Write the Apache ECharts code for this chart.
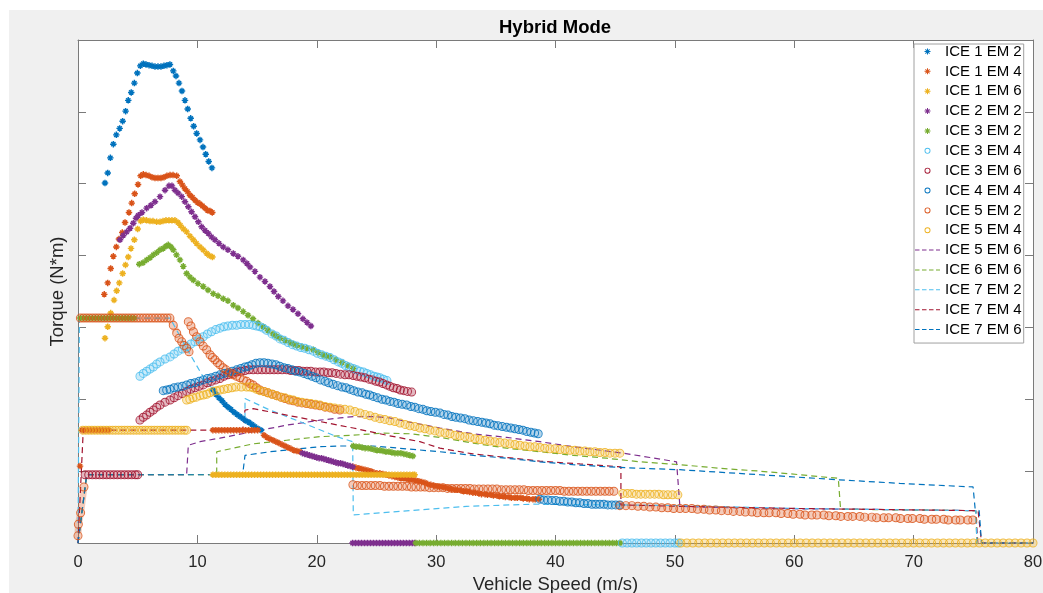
<!DOCTYPE html>
<html><head><meta charset="utf-8">
<script src="https://cdn.jsdelivr.net/npm/echarts@6/dist/echarts.min.js"></script>
<style>
html,body{margin:0;padding:0;background:#fff;width:1043px;height:593px;overflow:hidden}
#c{position:absolute;left:9px;top:10px;width:1034px;height:583px}
</style></head><body><div id="c"></div>
<script>
// ---------- labels ----------
const legendNames = ['ICE 1 EM 2','ICE 1 EM 4','ICE 1 EM 6','ICE 2 EM 2','ICE 3 EM 2','ICE 3 EM 4','ICE 3 EM 6','ICE 4 EM 4','ICE 5 EM 2','ICE 5 EM 4','ICE 5 EM 6','ICE 6 EM 6','ICE 7 EM 2','ICE 7 EM 4','ICE 7 EM 6'];
const seriesColors = ['#0072BD','#D95319','#EDB120','#7E2F8E','#77AC30','#4DBEEE','#A2142F','#0072BD','#D95319','#EDB120','#7E2F8E','#77AC30','#4DBEEE','#A2142F','#0072BD'];
const seriesKinds = ['star','star','star','star','star','ring','ring','ring','ring','ring','dash','dash','dash','dash','dash'];
const xTickValues = [0,10,20,30,40,50,60,70,80];
const yTickValues = [0,100,200,300,400,500,600,700];
const titleText = 'Hybrid Mode';
const xName = 'Vehicle Speed (m/s)';
const yName = 'Torque (N*m)';

// ---------- ICE 1 EM 2 (*) ----------
const ice1em2Peak = [[2.26,501],[2.49,515],[2.71,536],[2.96,555],[3.21,568],[3.49,577],[3.74,587],[3.99,601],[4.21,616],[4.46,627],[4.72,640],[4.97,654],[5.22,664],[5.47,667],[5.70,666],[5.95,665],[6.20,664],[6.45,663],[6.70,663],[6.95,663],[7.20,664],[7.45,665],[7.70,666],[7.98,657],[8.21,650],[8.46,640],[8.71,629],[8.96,616],[9.19,604],[9.44,591],[9.69,580],[9.94,570],[10.22,561],[10.47,551],[10.70,541],[10.95,531],[11.22,522]];
const ice1em2Band = [[11.31,213],[11.56,207],[11.81,202],[12.06,198],[12.31,193],[12.56,189],[12.81,186],[13.07,182],[13.32,179],[13.57,176],[13.82,173],[14.07,170],[14.32,168],[14.57,165],[14.82,162],[15.08,159],[15.33,157]];
// ---------- ICE 1 EM 4 (*) ----------
const ice1em4Low = [[0.17,107],[0.34,157],[0.59,157],[0.84,157],[1.09,157],[1.34,157],[1.59,157],[1.84,157],[2.09,157],[2.35,157],[2.60,157]];
const ice1em4Peak = [[2.20,346],[2.49,362],[2.74,382],[2.96,399],[3.21,412],[3.43,423],[3.71,432],[3.94,446],[4.27,460],[4.50,473],[4.75,486],[5.03,499],[5.25,511],[5.47,513],[5.70,512],[5.95,511],[6.20,509],[6.45,508],[6.70,508],[6.95,508],[7.20,509],[7.45,511],[7.71,512],[7.96,512],[8.27,511],[8.54,503],[8.75,498],[8.96,493],[9.17,489],[9.38,484],[9.59,481],[9.80,477],[10.01,474],[10.22,472],[10.43,469],[10.64,466],[10.85,463],[11.06,462],[11.25,460]];
const ice1em4Flat = [[11.3,157],[11.55,157],[11.8,157],[12.05,157],[12.3,157],[12.55,157],[12.8,157],[13.05,157],[13.3,157],[13.55,157],[13.8,157],[14.05,157],[14.3,157],[14.55,157],[14.8,157],[15.05,157]];
const ice1em4Band = [[15.58,150],[15.83,147],[16.08,145],[16.33,143],[16.58,141],[16.83,139],[17.09,137],[17.34,135],[17.59,133],[17.84,131],[18.09,129],[18.34,128],[18.59,127]];
const ice1em4Band2 = [[23.03,106],[23.28,105],[23.53,104],[23.78,103],[24.04,102],[24.29,101],[24.54,100],[24.79,98],[25.04,97],[25.29,97],[25.54,96],[25.8,95],[26.05,94],[26.3,93],[26.55,92],[26.8,91],[27.05,90],[27.3,90],[27.55,89],[27.8,88],[28.06,88],[28.3,87],[28.56,86],[28.8,85],[29.06,84],[29.3,82],[29.56,81],[29.8,80],[30.07,79],[30.3,78],[30.57,78],[30.8,77],[31.07,76],[31.3,75],[31.57,74],[31.8,74],[32.08,73],[32.3,72],[32.58,72],[32.8,71],[33.08,70],[33.3,70],[33.58,69],[33.8,68],[34.09,68],[34.3,67],[34.59,67],[34.8,66],[35.09,66],[35.3,65],[35.59,65],[35.8,64],[36.10,64],[36.3,63],[36.60,63],[36.8,63],[37.10,63],[37.3,62],[37.60,62],[37.8,61],[38.11,61],[38.3,61],[38.61,61]];
// ---------- ICE 1 EM 6 (*) ----------
const ice1em6Peak = [[2.26,285],[2.49,301],[2.74,320],[3.02,338],[3.24,351],[3.46,362],[3.74,375],[3.98,387],[4.21,398],[4.44,410],[4.72,422],[5.00,437],[5.25,448],[5.47,450],[5.74,449],[6.03,448],[6.28,448],[6.59,447],[6.87,447],[7.12,448],[7.37,449],[7.62,449],[7.87,449],[8.12,449],[8.38,446],[8.58,442],[8.84,437],[9.10,433],[9.38,427],[9.66,422],[9.92,417],[10.22,412],[10.49,408],[10.78,403],[11.01,400],[11.26,398]];
const ice1em6Flat = [[11.3,95],[11.55,95],[11.8,95],[12.05,95],[12.3,95],[12.55,95],[12.8,95],[13.05,95],[13.3,95],[13.55,95],[13.8,95],[14.05,95],[14.3,95],[14.55,95],[14.8,95],[15.05,95],[15.3,95],[15.55,95],[15.8,95],[16.05,95],[16.3,95],[16.55,95],[16.8,95],[17.05,95],[17.3,95],[17.55,95],[17.8,95],[18.05,95],[18.3,95],[18.55,95],[18.8,95],[19.05,95],[19.3,95],[19.55,95],[19.8,95],[20.05,95],[20.3,95],[20.55,95],[20.8,95],[21.05,95],[21.3,95],[21.55,95],[21.8,95],[22.05,95],[22.3,95],[22.55,95],[22.8,95],[23.05,95],[23.3,95],[23.55,95],[23.8,95],[24.05,95],[24.3,95],[24.55,95],[24.8,95],[25.05,95],[25.3,95],[25.55,95],[25.8,95],[26.05,95],[26.3,95],[26.55,95],[26.8,95],[27.05,95],[27.3,95],[27.55,95],[27.8,95],[28.05,95],[28.2,95]];
// ---------- ICE 2 EM 2 (*) ----------
const ice2em2Peak = [[3.52,422],[3.79,428],[4.08,433],[4.36,438],[4.63,445],[4.86,452],[5.05,456],[5.36,460],[5.75,466],[6.11,470],[6.45,475],[6.87,482],[7.29,491],[7.62,497],[7.87,497],[8.12,491],[8.38,487],[8.69,482],[8.96,475],[9.24,468],[9.51,461],[9.80,454],[10.08,447],[10.36,440],[10.64,435],[10.91,431],[11.18,426],[11.47,422],[11.81,417],[12.17,412],[12.56,408],[13.01,403],[13.40,399],[13.84,394],[14.15,389],[14.41,384],[14.82,378],[15.24,370],[15.66,364],[16.08,357],[16.42,350],[16.78,343],[17.17,337],[17.59,330],[18.01,325],[18.43,319],[18.84,312],[19.18,307],[19.51,302]];
const ice2em2Band = [[18.8,125],[19.0,124],[19.2,123],[19.4,122],[19.6,121],[19.8,120],[20.0,119],[20.2,118],[20.4,118],[20.6,117],[20.8,116],[21.0,115],[21.2,114],[21.4,113],[21.6,112],[21.8,111],[22.0,111],[22.2,110],[22.4,109],[22.6,108],[22.8,107],[23.0,106]];
const ice2em2Zero = [[23.0,0],[23.25,0],[23.5,0],[23.75,0],[24.0,0],[24.25,0],[24.5,0],[24.75,0],[25.0,0],[25.25,0],[25.5,0],[25.75,0],[26.0,0],[26.25,0],[26.5,0],[26.75,0],[27.0,0],[27.25,0],[27.5,0],[27.75,0],[28.0,0],[28.2,0]];
// ---------- ICE 3 EM 2 (*) ----------
const ice3em2Low = [[0.2,313],[0.45,313],[0.7,313],[0.95,313],[1.2,313],[1.45,313],[1.7,313],[1.95,313],[2.2,313],[2.45,313],[2.7,313],[2.95,313],[3.2,313],[3.45,313],[3.7,313],[3.95,313],[4.2,313],[4.45,313],[4.7,313]];
const ice3em2Peak = [[5.13,388],[5.44,390],[5.75,394],[6.03,397],[6.31,401],[6.59,404],[6.87,408],[7.14,410],[7.37,413],[7.56,415],[7.79,412],[7.98,408],[8.25,401],[8.54,394],[8.82,385],[9.10,375],[9.38,370],[9.66,366],[10.05,361],[10.49,357],[10.89,352],[11.33,347],[11.73,344],[12.17,340],[12.56,337],[13.01,331],[13.40,327],[13.84,322],[14.24,317],[14.66,312],[15.08,306],[15.52,301],[15.91,296],[16.33,291],[16.62,288],[16.92,285],[17.34,282],[17.76,279],[18.04,277],[18.32,275],[18.76,273],[19.18,271],[19.71,269],[20.10,265],[20.52,262],[20.80,260],[21.11,259],[21.61,255],[22.11,251],[22.61,247],[23.06,243]];
const ice3em2Mid = [[23.06,135],[23.3,134],[23.55,134],[23.8,133],[24.05,132],[24.3,132],[24.55,131],[24.8,130],[25.05,129],[25.3,129],[25.55,128],[25.8,127],[26.05,127],[26.3,126],[26.55,125],[26.8,125],[27.05,125],[27.3,124],[27.55,123],[27.8,122],[28.05,121]];
const ice3em2Zero = [[28.3,0],[28.6,0],[28.9,0],[29.2,0],[29.5,0],[29.8,0],[30.1,0],[30.4,0],[30.7,0],[31.0,0],[31.3,0],[31.6,0],[31.9,0],[32.2,0],[32.5,0],[32.8,0],[33.1,0],[33.4,0],[33.7,0],[34.0,0],[34.3,0],[34.6,0],[34.9,0],[35.2,0],[35.5,0],[35.8,0],[36.1,0],[36.4,0],[36.7,0],[37.0,0],[37.3,0],[37.6,0],[37.9,0],[38.2,0],[38.5,0],[38.8,0],[39.1,0],[39.4,0],[39.7,0],[40.0,0],[40.3,0],[40.6,0],[40.9,0],[41.2,0],[41.5,0],[41.8,0],[42.1,0],[42.4,0],[42.7,0],[43.0,0],[43.3,0],[43.6,0],[43.9,0],[44.2,0],[44.5,0],[44.8,0],[45.1,0],[45.4,0]];
// ---------- ICE 3 EM 4 (o) ----------
const ice3em4Main = [[5.19,232],[5.47,236],[5.75,239],[6.03,242],[6.31,245],[6.59,249],[6.87,252],[7.29,256],[7.71,259],[8.05,263],[8.38,267],[8.74,270],[9.10,273],[9.45,277],[9.80,280],[10.15,284],[10.49,287],[10.84,291],[11.18,294],[11.54,297],[11.89,299],[12.22,301],[12.56,302],[12.93,303],[13.29,303],[13.64,304],[13.99,304],[14.33,304],[14.68,303],[14.96,302],[15.24,301],[15.52,299],[15.80,296],[16.25,291],[16.6,288],[16.92,284],[17.26,282],[17.6,279],[17.96,276],[18.32,274],[18.66,272],[19.0,271],[19.35,269],[19.71,267],[20.05,264],[20.4,262],[20.75,260],[21.11,258],[21.45,255],[21.8,252],[22.1,250],[22.4,247],[22.73,245],[23.06,243],[23.34,241],[23.62,239],[23.91,238],[24.2,236],[24.5,234],[24.79,232],[25.04,231],[25.29,230],[25.58,228],[25.88,226]];
const ice3em4Zero = [[45.6,0],[46.0,0],[46.4,0],[46.8,0],[47.2,0],[47.6,0],[48.0,0],[48.4,0],[48.8,0],[49.2,0],[49.6,0],[50.0,0],[50.3,0]];
// ---------- ICE 3 EM 6 (o) ----------
const ice3em6Low = [[0.6,95],[0.9,95],[1.2,95],[1.5,95],[1.8,95],[2.1,95],[2.4,95],[2.7,95],[3.0,95],[3.3,95],[3.6,95],[3.9,95],[4.2,95],[4.5,95],[4.8,95],[5.0,95]];
const ice3em6Main = [[5.19,171],[5.47,175],[5.75,178],[6.03,182],[6.31,185],[6.59,189],[6.87,192],[7.29,196],[7.71,199],[8.05,202],[8.38,205],[8.74,208],[9.10,211],[9.45,214],[9.80,216],[10.15,218],[10.49,220],[10.84,223],[11.18,225],[11.54,227],[11.89,229],[12.22,232],[12.56,234],[12.93,236],[13.29,238],[13.64,239],[13.99,240],[14.33,241],[14.68,241],[15.05,241],[15.41,241],[15.75,241],[16.08,241],[16.42,241],[16.75,241],[17.1,241],[17.48,241],[17.82,240],[18.17,240],[18.5,240],[18.84,239],[19.18,239],[19.51,239],[19.9,238],[20.27,238],[20.6,238],[20.94,237],[21.28,237],[21.61,236],[21.98,235],[22.36,234],[22.7,234],[23.06,233],[23.38,232],[23.70,231],[24.03,230],[24.37,228],[24.66,227],[24.96,225],[25.25,224],[25.54,222],[25.84,220],[26.13,218],[26.42,216],[26.72,215],[27.0,213],[27.30,212],[27.6,211],[27.95,210]];
// ---------- ICE 4 EM 4 (o) ----------
const ice4em4Main = [[7.14,212],[7.43,213],[7.71,214],[8.05,216],[8.38,217],[8.74,218],[9.10,220],[9.45,222],[9.80,223],[10.15,225],[10.49,227],[10.84,229],[11.18,230],[11.54,232],[11.89,234],[12.22,236],[12.56,237],[12.93,239],[13.29,241],[13.64,243],[13.99,245],[14.28,246],[14.57,248],[14.9,250],[15.24,251],[15.58,251],[15.91,250],[16.25,249],[16.58,248],[16.9,246],[17.25,244],[17.58,243],[17.92,241],[18.25,239],[18.59,238],[18.92,236],[19.26,234],[19.6,232],[19.93,230],[20.3,227],[20.69,225],[21.0,223],[21.36,221],[21.74,219],[22.11,217],[22.45,216],[22.78,214],[23.1,212],[23.45,210],[23.8,209],[24.12,207],[24.43,206],[24.73,204],[25.1,202],[25.46,200],[25.8,199],[26.13,197],[26.47,196],[26.80,194],[27.16,193],[27.53,192],[27.88,190],[28.22,189],[28.55,187],[28.89,186],[29.22,184],[29.56,183],[29.94,182],[30.32,181],[30.65,179],[30.99,178],[31.32,176],[31.66,175],[32.04,174],[32.41,173],[32.76,171],[33.11,170],[33.48,169],[33.84,168],[34.18,167],[34.51,166],[34.85,164],[35.18,163],[35.54,162],[35.90,161],[36.25,160],[36.60,159],[36.94,158],[37.27,157],[37.6,155],[37.94,154],[38.25,153],[38.55,152]];
const ice4em4Band = [[38.69,61],[39.02,60],[39.36,60],[39.7,59],[40.03,59],[40.36,58],[40.70,58],[41.03,57],[41.37,57],[41.7,56],[42.04,56],[42.38,55],[42.71,55],[43.05,54],[43.38,54],[43.71,54],[44.05,54],[44.38,53],[44.72,53],[45.05,53],[45.39,53]];
// ---------- ICE 5 EM 2 (o) ----------
const ice5em2Start = [[0.0,10],[0.03,26],[0.22,42],[0.5,78]];
const ice5em2Low = [[0.2,313],[0.45,313],[0.7,313],[0.95,313],[1.2,313],[1.45,313],[1.7,313],[1.95,313],[2.2,313],[2.45,313],[2.7,313],[2.95,313],[3.2,313],[3.45,313],[3.7,313],[3.95,313],[4.2,313],[4.45,313],[4.7,313],[4.95,313],[5.2,313],[5.45,313],[5.7,313],[5.95,313],[6.2,313],[6.45,313],[6.7,313],[6.95,313],[7.2,313],[7.45,313],[7.7,313],[7.98,303],[8.27,292],[8.46,285],[8.69,280],[8.88,275],[9.10,271],[9.30,266]];
const ice5em2Hyb = [[9.24,308],[9.46,302],[9.67,294],[9.94,287],[10.22,280],[10.49,274],[10.78,269],[11.06,262],[11.27,258],[11.47,255],[11.68,251],[11.89,248],[12.15,244],[12.40,241],[12.69,237],[12.98,234],[13.28,232],[13.57,230],[13.85,227],[14.13,225],[14.4,222],[14.66,220],[14.95,216],[15.24,213],[15.58,211],[15.91,209],[16.28,207],[16.64,205],[17.0,203],[17.34,201],[17.7,199],[18.03,198],[18.4,196],[18.76,195],[19.14,194],[19.51,193],[19.9,192],[20.27,191],[20.7,189],[21.11,188],[21.5,186],[21.94,185]];
const ice5em2Mid = [[23.03,81],[23.4,80],[23.79,80],[24.15,80],[24.54,80],[24.9,80],[25.29,80],[25.67,79],[26.05,79],[26.42,79],[26.80,79],[27.17,79],[27.55,79],[27.93,78],[28.31,78],[28.7,78],[29.06,78],[29.44,77],[29.82,77],[30.2,77],[30.57,77],[30.95,76],[31.32,76],[31.7,76],[32.08,76],[32.45,76],[32.83,76],[33.2,75],[33.58,75],[33.96,75],[34.34,75],[34.72,75],[35.09,75],[35.47,74],[35.85,74],[36.22,74],[36.60,74],[36.97,74],[37.35,74],[37.73,73],[38.11,73],[38.48,73],[38.86,73],[39.24,73],[39.61,73],[40.0,73],[40.37,73],[40.74,72],[41.12,72],[41.5,72],[41.88,72],[42.25,72],[42.63,72],[43.0,72],[43.38,72],[43.76,72],[44.14,72],[44.5,72],[44.89,72]];
const ice5em2High = [[45.39,52],[45.9,52],[46.40,52],[46.9,51],[47.40,51],[47.9,50],[48.41,50],[48.9,49],[49.41,49],[49.9,48],[50.42,48],[50.9,48],[51.42,48],[51.9,47],[52.43,47],[52.9,46],[53.43,46],[53.9,45],[54.44,45],[54.9,44],[55.44,44],[55.9,43],[56.45,43],[56.9,42],[57.45,42],[57.9,42],[58.46,42],[58.9,41],[59.46,41],[59.9,40],[60.47,40],[60.9,39],[61.47,39],[61.9,39],[62.48,39],[62.9,38],[63.48,38],[63.9,37],[64.49,37],[64.9,37],[65.49,37],[65.9,36],[66.50,36],[66.9,35],[67.50,35],[67.9,35],[68.51,35],[68.9,34],[69.51,34],[69.9,34],[70.52,34],[70.9,33],[71.52,33],[71.9,33],[72.53,33],[72.9,32],[73.53,32],[73.9,32],[74.54,32],[74.96,32]];
// ---------- ICE 5 EM 4 (o) ----------
const ice5em4Low = [[0.4,157],[0.65,157],[0.9,157],[1.15,157],[1.4,157],[1.65,157],[1.9,157],[2.15,157],[2.4,157],[2.65,157],[2.9,157],[3.15,157],[3.4,157],[3.65,157],[3.9,157],[4.15,157],[4.4,157],[4.65,157],[4.9,157],[5.15,157],[5.4,157],[5.65,157],[5.9,157],[6.15,157],[6.4,157],[6.65,157],[6.9,157],[7.15,157],[7.4,157],[7.65,157],[7.9,157],[8.15,157],[8.4,157],[8.65,157],[8.9,157],[9.1,157]];
const ice5em4Hyb = [[9.10,199],[9.37,200],[9.63,202],[9.92,203],[10.22,205],[10.5,206],[10.78,207],[11.05,209],[11.33,211],[11.6,212],[11.89,213],[12.22,214],[12.56,215],[12.9,216],[13.23,217],[13.68,217],[14.13,217],[14.4,217],[14.68,216],[14.96,214],[15.24,212],[15.58,211],[15.91,209],[16.28,207],[16.64,205],[17.0,203],[17.34,202],[17.7,200],[18.03,199],[18.4,197],[18.76,196],[19.14,195],[19.51,194],[19.9,193],[20.27,192],[20.7,190],[21.11,189],[21.5,188],[21.94,187],[22.36,186],[22.78,185],[23.2,183],[23.62,181],[24.04,179],[24.46,177],[24.88,175],[25.29,173],[25.7,172],[26.13,170],[26.55,169],[26.97,167],[27.4,165],[27.81,163],[28.22,162],[28.64,160],[29.06,159],[29.48,157],[29.9,156],[30.32,154],[30.74,153],[31.16,152],[31.58,150],[32.00,149],[32.4,148],[32.83,147],[33.25,145],[33.67,144],[34.1,143],[34.51,142],[34.92,141],[35.34,140],[35.76,139],[36.18,138],[36.6,137],[37.02,136],[37.44,135],[37.86,134],[38.27,134],[38.69,133],[39.1,132],[39.53,131],[39.95,131],[40.37,130],[40.8,130],[41.21,129],[41.62,129],[42.04,128],[42.46,128],[42.88,127],[43.3,127],[43.72,126],[44.14,126],[44.56,125],[44.98,125],[45.39,125]];
const ice5em4Mid = [[45.64,69],[46.02,69],[46.40,69],[46.78,68],[47.15,68],[47.53,68],[47.91,68],[48.3,68],[48.66,68],[49.04,67],[49.41,67],[49.8,67],[50.25,67]];
const ice5em4Zero = [[50.5,0],[51.0,0],[51.5,0],[52.0,0],[52.5,0],[53.0,0],[53.5,0],[54.0,0],[54.5,0],[55.0,0],[55.5,0],[56.0,0],[56.5,0],[57.0,0],[57.5,0],[58.0,0],[58.5,0],[59.0,0],[59.5,0],[60.0,0],[60.5,0],[61.0,0],[61.5,0],[62.0,0],[62.5,0],[63.0,0],[63.5,0],[64.0,0],[64.5,0],[65.0,0],[65.5,0],[66.0,0],[66.5,0],[67.0,0],[67.5,0],[68.0,0],[68.5,0],[69.0,0],[69.5,0],[70.0,0],[70.5,0],[71.0,0],[71.5,0],[72.0,0],[72.5,0],[73.0,0],[73.5,0],[74.0,0],[74.5,0],[75.0,0],[75.5,0],[76.0,0],[76.5,0],[77.0,0],[77.5,0],[78.0,0],[78.5,0],[79.0,0],[79.5,0],[80,0]];
// ---------- dashed curves ----------
const ice5em6Line = [[0,0],[0.73,95],[9.10,95],[9.24,136],[10.22,141],[11.89,146],[14.68,155],[17.48,164],[20.27,171],[21.94,174],[23.06,176],[24.73,176],[26.13,174],[27.53,169],[30.32,160],[33.08,152],[35.90,147],[38.69,141],[41.48,134],[44.28,128],[45.67,125],[47.91,119],[50.14,113],[50.42,51],[57.12,48],[65.49,47],[75.21,45],[75.38,0],[80,0]];
const ice6em6Line = [[0,0],[0.73,95],[11.62,95],[11.62,127],[14.68,138],[17.48,143],[20.27,148],[23.06,150],[25.57,153],[27.81,152],[30.32,147],[33.08,139],[35.90,132],[38.69,127],[41.48,122],[44.28,118],[47.07,113],[50.42,109],[53.77,104],[57.12,100],[60.47,95],[63.69,90],[63.88,47],[75.21,45],[75.3,0],[80,0]];
const ice7em2Line = [[0,0],[0.12,313],[7.71,313],[9.10,271],[10.49,231],[11.33,213],[12.73,190],[13.82,174],[13.99,167],[13.99,201],[16.08,185],[18.87,167],[21.67,148],[23.01,141],[23.06,39],[26.97,44],[32.55,51],[38.13,54],[45.39,53],[50.42,52],[60.47,48],[75.21,45],[75.3,0],[80,0]];
const ice7em4Line = [[0,0],[0.44,157],[13.79,157],[13.99,185],[14.68,187],[17.48,178],[20.27,169],[23.06,160],[25.85,150],[28.64,141],[30.32,132],[33.08,124],[35.90,119],[38.69,114],[42.04,110],[45.48,106],[45.48,53],[50.42,51],[60.47,48],[75.40,45],[75.69,0],[80,0]];
const ice7em6Line = [[0,0],[0.73,95],[13.79,95],[13.99,122],[16.08,127],[20.27,134],[21.94,135],[24.71,135],[27.53,131],[30.32,127],[33.11,122],[35.90,118],[38.69,113],[41.46,109],[44.30,106],[47.07,104],[50.42,102],[57.12,95],[63.69,88],[68.84,83],[74.98,78],[75.15,48],[75.49,45],[75.69,0],[80,0]];

const seriesSegments = [
  [ice1em2Peak, ice1em2Band],
  [ice1em4Low, ice1em4Peak, ice1em4Flat, ice1em4Band, ice1em4Band2],
  [ice1em6Peak, ice1em6Flat],
  [ice2em2Peak, ice2em2Band, ice2em2Zero],
  [ice3em2Low, ice3em2Peak, ice3em2Mid, ice3em2Zero],
  [ice3em4Main, ice3em4Zero],
  [ice3em6Low, ice3em6Main],
  [ice4em4Main, ice4em4Band],
  [ice5em2Start, ice5em2Low, ice5em2Hyb, ice5em2Mid, ice5em2High],
  [ice5em4Low, ice5em4Hyb, ice5em4Mid, ice5em4Zero],
  [ice5em6Line],[ice6em6Line],[ice7em2Line],[ice7em4Line],[ice7em6Line]
];

// ---------- symbols ----------
const ASTER = 'path://M3.9,0 h2.2 v10 h-2.2 Z M0,3.9 h10 v2.2 h-10 Z M0.9,2.5 L2.5,0.9 L9.1,7.5 L7.5,9.1 Z M7.5,0.9 L9.1,2.5 L2.5,9.1 L0.9,7.5 Z';
const RING = 'path://M10,0 A10,10 0 1,1 10,20 A10,10 0 1,1 10,0 Z M10,2.2 A7.8,7.8 0 1,0 10,17.8 A7.8,7.8 0 1,0 10,2.2 Z';
const PAD = ' M0,0 L0.01,0.01 Z M25,14 L24.99,13.99 Z';
const LEG_ASTER = 'path://M12,4 h1 v6 h-1 Z M9.5,6.5 h6 v1 h-6 Z M10.05,5.25 L10.75,4.55 L14.95,8.75 L14.25,9.45 Z M14.25,4.55 L14.95,5.25 L10.75,9.45 L10.05,8.75 Z' + PAD;
const LEG_RING = 'path://M12.5,4 A3,3 0 1,1 12.5,10 A3,3 0 1,1 12.5,4 Z M12.5,4.9 A2.1,2.1 0 1,0 12.5,9.1 A2.1,2.1 0 1,0 12.5,4.9 Z' + PAD;
const LEG_DASH = 'path://M0,6.5 h4.5 v1 h-4.5 Z M7,6.5 h4.5 v1 h-4.5 Z M14,6.5 h4.5 v1 h-4.5 Z M21,6.5 h4 v1 h-4 Z' + PAD;

const FONT = 'Liberation Sans, Arial, Helvetica, sans-serif';
const AX = '#7a7a7a';

function hexA(hex, a){
  const n = parseInt(hex.slice(1),16);
  return 'rgba(' + ((n>>16)&255) + ',' + ((n>>8)&255) + ',' + (n&255) + ',' + a + ')';
}

// one ECharts series per drawn segment; segments of a curve share its legend name
const series = [];
legendNames.forEach((name,i)=>{
  const c = seriesColors[i], k = seriesKinds[i];
  seriesSegments[i].forEach(seg=>{
    const base = {type:'line', name, data: seg, clip:false, animation:false, silent:true,
      emphasis:{disabled:true}, xAxisIndex:0, yAxisIndex:0};
    if(k==='star') {
      series.push(Object.assign(base,{symbol:ASTER, symbolSize:6.5, showAllSymbol:true,
        itemStyle:{color:c}, lineStyle:{width:0, opacity:0}}));
    } else if(k==='ring') {
      // pale band left by the densely packed circles
      series.push(Object.assign({}, base, {symbol:'none', itemStyle:{color:hexA(c,0.3)},
        lineStyle:{width:7, color:hexA(c,0.3), cap:'round', join:'round', type:'solid'}}));
      // the hollow circle markers themselves
      series.push(Object.assign({}, base, {symbol:RING, symbolSize:9, showAllSymbol:true,
        itemStyle:{color:c, opacity:0.85}, lineStyle:{width:0, opacity:0}}));
    } else {
      series.push(Object.assign(base,{symbol:'none', lineStyle:{type:[6,4], width:1.2, color:c}}));
    }
  });
});

const legendData = legendNames.map((name,i)=>({
  name,
  icon: seriesKinds[i]==='star' ? LEG_ASTER : seriesKinds[i]==='ring' ? LEG_RING : LEG_DASH,
  itemStyle:{color:seriesColors[i], borderWidth:0, opacity:1}
}));

const chart = echarts.init(document.getElementById('c'), null, {renderer:'canvas'});
chart.setOption({
  animation:false,
  backgroundColor:'#f0f0f0',
  textStyle:{fontFamily:FONT},
  title:{text:titleText, left:490, top:8, padding:0,
    textStyle:{fontSize:18.5, fontWeight:'bold', color:'#000', fontFamily:FONT}},
  grid:{left:69, right:10, top:30, bottom:50, show:true, backgroundColor:'#fff', borderWidth:0,
    containLabel:false, outerBoundsMode:'none'},
  legend:{orient:'vertical', left:905, top:34, padding:[0,2,6,1], itemWidth:25, itemHeight:14, itemGap:4.86,
    backgroundColor:'#fff', borderColor:'#a0a0a0', borderWidth:1, selectedMode:false,
    textStyle:{fontSize:15, color:'#000', fontFamily:FONT, lineHeight:14}, data:legendData},
  xAxis:[
    {type:'value', min:xTickValues[0], max:xTickValues[xTickValues.length-1], interval:10, position:'bottom',
     axisLine:{show:true, onZero:false, lineStyle:{color:AX, width:1}},
     axisTick:{show:true, inside:true, length:8, lineStyle:{color:AX}},
     axisLabel:{show:true, margin:11, fontSize:16.5, color:'#262626', fontFamily:FONT,
       formatter:(v)=> xTickValues.includes(v) ? String(v) : ''},
     splitLine:{show:false},
     name:xName, nameLocation:'middle', nameGap:32,
     nameTextStyle:{fontSize:18.5, color:'#262626', fontFamily:FONT}},
    {type:'value', min:xTickValues[0], max:xTickValues[xTickValues.length-1], interval:10, position:'top',
     axisLine:{show:true, onZero:false, lineStyle:{color:AX, width:1}},
     axisTick:{show:true, inside:true, length:8, lineStyle:{color:AX}},
     axisLabel:{show:false}, splitLine:{show:false}}
  ],
  yAxis:[
    {type:'value', min:yTickValues[0], max:yTickValues[yTickValues.length-1], interval:100, position:'left',
     axisLine:{show:true, onZero:false, lineStyle:{color:AX, width:1}},
     axisTick:{show:true, inside:true, length:8, lineStyle:{color:AX}},
     axisLabel:{show:false}, splitLine:{show:false},
     name:yName, nameLocation:'middle', nameGap:11, nameRotate:90,
     nameTextStyle:{fontSize:18.5, color:'#262626', fontFamily:FONT}},
    {type:'value', min:yTickValues[0], max:yTickValues[yTickValues.length-1], interval:100, position:'right',
     axisLine:{show:true, onZero:false, lineStyle:{color:AX, width:1}},
     axisTick:{show:true, inside:true, length:8, lineStyle:{color:AX}},
     axisLabel:{show:false}, splitLine:{show:false}}
  ],
  series
});
</script></body></html>
